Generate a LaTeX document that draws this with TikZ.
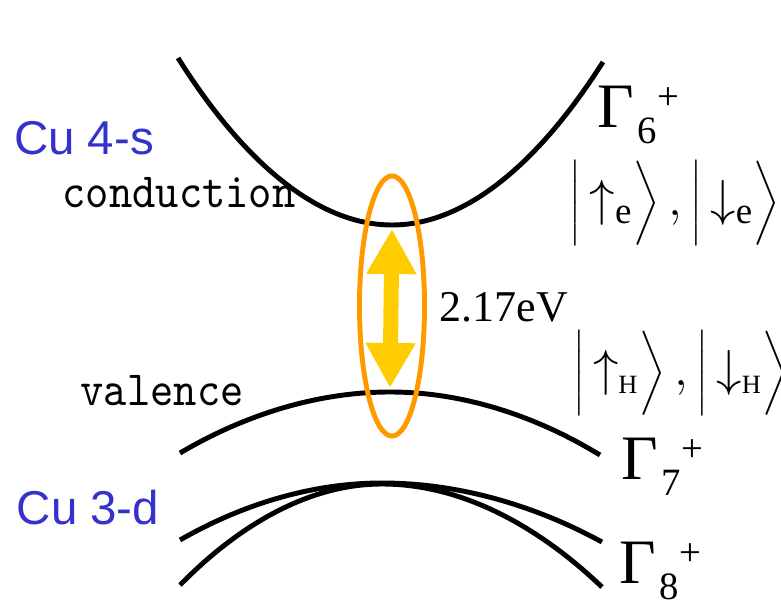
\documentclass[tikz,border=0pt]{standalone}
\usepackage{fontspec}
\setmainfont{Liberation Serif}
\newfontfamily\orbfont{Liberation Sans}
\newfontfamily\bandfont[Extension=.otf, FakeStretch=0.9]{lmmono10-regular}
\usetikzlibrary{shapes.geometric,arrows.meta}
\definecolor{cublue}{RGB}{51,51,204}
\definecolor{ringorange}{RGB}{255,153,0}
\definecolor{gapyellow}{RGB}{255,204,0}
\newcommand{\gamlabel}[1]{\fontsize{18}{18}\selectfont Γ\kern1pt\raisebox{-4.6pt}{\fontsize{11}{11}\selectfont #1}\raisebox{5pt}{\fontsize{11}{11}\selectfont +}}
\newcommand{\ketpair}[1]{\fontsize{15}{15}\selectfont$\left|\,\uparrow_{#1}\vrule height 12pt depth 9pt width 0pt\right\rangle,\left|\,\downarrow_{#1}\vrule height 12pt depth 9pt width 0pt\right\rangle$}

\begin{document}
\begin{tikzpicture}[x=0.01cm, y=-0.01cm,
    band/.style={line width=1.4pt},
    orbital/.style={font=\orbfont\fontsize{13.5}{13.5}\selectfont, text=cublue, inner sep=0pt},
    bandname/.style={font=\bandfont\fontsize{14}{14}\selectfont, anchor=base west, inner sep=0pt},
    gamma/.style={anchor=base west, inner sep=0pt},
    gapring/.style={ellipse, draw=ringorange, line width=1.4pt, minimum width=0.65cm, minimum height=2.6cm, inner sep=0pt},
    gaparrow/.style={draw=gapyellow, line width=0.15cm, {Triangle[width=0.47cm,length=0.45cm,fill=gapyellow]}-{Triangle[width=0.47cm,length=0.45cm,fill=gapyellow]}, shorten <=0.04cm, shorten >=0.04cm}]
    \useasboundingbox (0,0) rectangle (781,603);

    % labels on the left
    \node[orbital] (cu4s) at (84,138) {Cu 4-s};
    \node[orbital] (cu3d) at (88,508) {Cu 3-d};
    \node[bandname] (cond) at (62,208) {conduction};
    \node[bandname] (val) at (80,405) {valence};

    % bands
    \coordinate (cbmin) at (392,225);
    \coordinate (vbmax) at (390,392);
    \draw[band] (178,58) parabola bend (cbmin) (603,62);
    \draw[band] (180,453) parabola bend (vbmax) (600,455);
    \draw[band] (180,540) parabola bend (382,483) (602,542);
    \draw[band] (180,585) parabola bend (382,484) (602,587);

    % gap
    \draw[gaparrow] (cbmin) -- (vbmax);
    \node[gapring] (gap) at (392,306) {};
    \node[anchor=base west, inner sep=0pt, font=\fontsize{12.5}{12.5}\selectfont] (egap) at (439,321) {2.17eV};

    % symmetry labels and states
    \node[gamma] (g6) at (597,127) {\gamlabel{6}};
    \node[gamma] (g7) at (621,479) {\gamlabel{7}};
    \node[gamma] (g8) at (619,583) {\gamlabel{8}};
    \node[inner sep=0pt] (kete) at (675,204) {\ketpair{\mathrm{e}}};
    \node[inner sep=0pt] (keth) at (681,374) {\ketpair{\scriptscriptstyle\mathrm{H}}};
\end{tikzpicture}
\end{document}
